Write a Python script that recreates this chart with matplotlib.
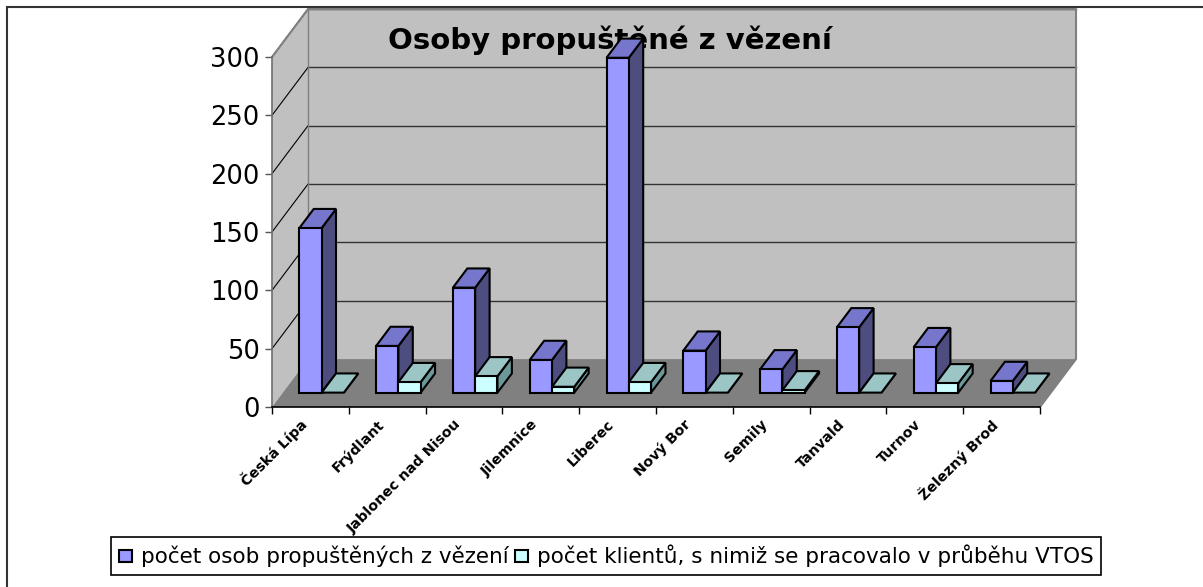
import matplotlib
matplotlib.use("Agg")
import matplotlib.pyplot as plt
from matplotlib.patches import Polygon, Rectangle, Patch

# data
categories = ["Česká Lípa", "Frýdlant", "Jablonec nad Nisou", "Jilemnice", "Liberec",
              "Nový Bor", "Semily", "Tanvald", "Turnov", "Železný Brod"]
released = [141, 40, 90, 28, 287, 36, 20, 56, 39, 10]
clients = [0, 9, 14, 5, 9, 0, 2, 0, 8, 0]
series_names = ["počet osob propuštěných z vězení",
                "počet klientů, s nimiž se pracovalo v průběhu VTOS"]
yticks = [0, 50, 100, 150, 200, 250, 300]
title = "Osoby propuštěné z vězení"

# oblique 3d look (depth offset in data units)
DX, DY = 0.469, 41.1
F0, F1 = 0.3, 0.7          # bar front/back depth fraction
BAR_W, GAP = 0.29, 0.215
S1 = ("#9999FF", "#7676CC", "#4D4D80")   # front, top, side
S2 = ("#CCFFFF", "#9CC6C6", "#6B9999")

W, H = 1203, 587
fig = plt.figure(figsize=(W / 100, H / 100), dpi=100)
ax = fig.add_axes([272 / W, (H - 407) / H, 768 / W, 350 / H])
ax.set_xlim(0, len(categories))
ax.set_ylim(0, 300)
ax.patch.set_visible(False)


def P(x, y, d):
    return (x + d * DX, y + d * DY)


def poly(pts, fc, ec="none", lw=0, z=1):
    ax.add_patch(Polygon(pts, closed=True, facecolor=fc, edgecolor=ec, lw=lw,
                         zorder=z, clip_on=False, joinstyle="miter"))


n = len(categories)
top = yticks[-1]
# walls and floor
poly([P(0, 0, 0), P(0, top, 0), P(0, top, 1), P(0, 0, 1)], "#C0C0C0", z=0.5)
poly([P(0, 0, 1), P(n, 0, 1), P(n, top, 1), P(0, top, 1)], "#C0C0C0", z=0.5)
poly([P(0, 0, 0), P(n, 0, 0), P(n, 0, 1), P(0, 0, 1)], "#808080", z=0.6)
for v in yticks[1:]:
    ax.plot(*zip(P(0, v, 0), P(0, v, 1)), color="black", lw=0.8, zorder=0.7, clip_on=False)
    ax.plot(*zip(P(0, v, 1), P(n, v, 1)), color="#333333", lw=1.0, zorder=0.7, clip_on=False)
# wall outlines
ax.plot(*zip(P(0, top, 0), P(0, top, 1), P(n, top, 1), P(n, 0, 1), P(n, 0, 0)),
        color="#808080", lw=1.5, zorder=0.8, clip_on=False)
ax.plot(*zip(P(0, 0, 1), P(0, top, 1)), color="#808080", lw=1.0, zorder=0.8, clip_on=False)

ax.text(610 / W, 1 - 40 / H, title, transform=fig.transFigure, ha="center", va="center",
        fontsize=21, fontweight="bold", zorder=0.9)


def bar3d(x0, h, cols, z):
    x1 = x0 + BAR_W
    kw = dict(ec="black", lw=1.5, z=z)
    poly([P(x1, 0, F0), P(x1, 0, F1), P(x1, h, F1), P(x1, h, F0)], cols[2], **kw)
    poly([P(x0, h, F0), P(x1, h, F0), P(x1, h, F1), P(x0, h, F1)], cols[1], **kw)
    if h > 0:
        poly([P(x0, 0, F0), P(x1, 0, F0), P(x1, h, F0), P(x0, h, F0)], cols[0], **kw)


for i in range(n):
    bar3d(i + GAP, released[i], S1, 2 + i * 0.1)
    bar3d(i + GAP + BAR_W, clients[i], S2, 2.05 + i * 0.1)

# axes, ticks, labels
for s in ("top", "right"):
    ax.spines[s].set_visible(False)
ax.spines["left"].set_color("#707070")
ax.spines["left"].set_linewidth(1.2)
ax.spines["bottom"].set_color("black")
ax.spines["bottom"].set_linewidth(1.2)
ax.spines["left"].set_zorder(3)
ax.spines["bottom"].set_zorder(3)

ax.set_yticks(yticks)
ax.tick_params(axis="y", direction="out", length=5, width=1, color="#555555",
               labelsize=18.5, pad=4)
ax.set_xticks(range(n + 1), [""] * (n + 1))
ax.tick_params(axis="x", which="major", direction="out", length=5, width=1, color="black")
for i, cat in enumerate(categories):
    ax.annotate(cat, xy=(i + 0.5, 0), xytext=(-4, -11), textcoords="offset points",
                rotation=45, ha="right", va="center", rotation_mode="anchor",
                fontsize=10.3, fontweight="bold", annotation_clip=False)

handles = [Patch(facecolor=S1[0], edgecolor="black", lw=1.5),
           Patch(facecolor=S2[0], edgecolor="black", lw=1.5)]
leg = fig.legend(handles, series_names, loc="center", bbox_to_anchor=(606 / W, 1 - 556 / H),
                 ncol=2, fontsize=15.5, frameon=True, fancybox=False, framealpha=1,
                 edgecolor="black", handlelength=0.62, handleheight=0.5,
                 handletextpad=0.4, columnspacing=0.3, borderpad=0.35, borderaxespad=0)
leg.get_frame().set_linewidth(1.2)

# chart area border (only top and left fall inside the image)
fig.add_artist(Rectangle((7 / W, -0.1), 1.2, 1 - 7 / H + 0.1, transform=fig.transFigure,
                         fill=False, edgecolor="#333333", lw=1.5))

fig.savefig("out.png", dpi=100)
